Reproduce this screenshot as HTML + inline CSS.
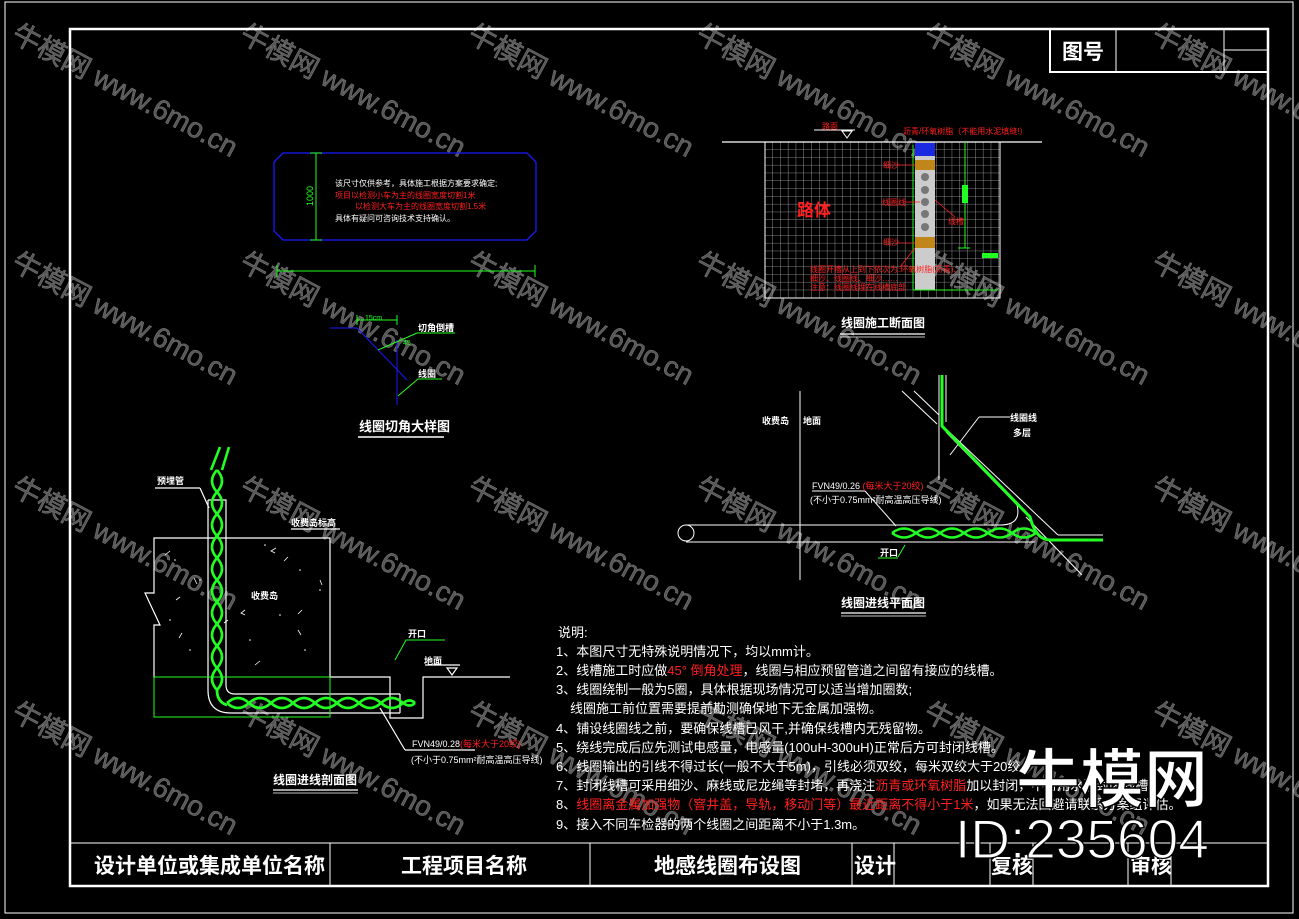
<!DOCTYPE html>
<html><head><meta charset="utf-8"><style>
html,body{margin:0;padding:0;background:#000;}
svg{display:block;}
text{font-family:"Liberation Sans","Noto Sans CJK SC",sans-serif;}
.w{fill:#fff;}
.r{fill:#ff2020;}
.wm{fill:#555;stroke:#777;stroke-width:0.6;font-size:28px;}
</style></head><body>
<svg width="1299" height="919" viewBox="0 0 1299 919" xmlns="http://www.w3.org/2000/svg">
<rect width="1299" height="919" fill="#000"/>
<!-- watermarks -->
<g class="wm">
<g transform="translate(10,40) rotate(28)"><text>牛模网 www.6mo.cn</text></g>
<g transform="translate(238,40) rotate(28)"><text>牛模网 www.6mo.cn</text></g>
<g transform="translate(466,40) rotate(28)"><text>牛模网 www.6mo.cn</text></g>
<g transform="translate(694,40) rotate(28)"><text>牛模网 www.6mo.cn</text></g>
<g transform="translate(922,40) rotate(28)"><text>牛模网 www.6mo.cn</text></g>
<g transform="translate(1150,40) rotate(28)"><text>牛模网 www.6mo.cn</text></g>
<g transform="translate(10,268) rotate(28)"><text>牛模网 www.6mo.cn</text></g>
<g transform="translate(238,268) rotate(28)"><text>牛模网 www.6mo.cn</text></g>
<g transform="translate(466,268) rotate(28)"><text>牛模网 www.6mo.cn</text></g>
<g transform="translate(694,268) rotate(28)"><text>牛模网 www.6mo.cn</text></g>
<g transform="translate(922,268) rotate(28)"><text>牛模网 www.6mo.cn</text></g>
<g transform="translate(1150,268) rotate(28)"><text>牛模网 www.6mo.cn</text></g>
<g transform="translate(10,493) rotate(28)"><text>牛模网 www.6mo.cn</text></g>
<g transform="translate(238,493) rotate(28)"><text>牛模网 www.6mo.cn</text></g>
<g transform="translate(466,493) rotate(28)"><text>牛模网 www.6mo.cn</text></g>
<g transform="translate(694,493) rotate(28)"><text>牛模网 www.6mo.cn</text></g>
<g transform="translate(922,493) rotate(28)"><text>牛模网 www.6mo.cn</text></g>
<g transform="translate(1150,493) rotate(28)"><text>牛模网 www.6mo.cn</text></g>
<g transform="translate(10,718) rotate(28)"><text>牛模网 www.6mo.cn</text></g>
<g transform="translate(238,718) rotate(28)"><text>牛模网 www.6mo.cn</text></g>
<g transform="translate(466,718) rotate(28)"><text>牛模网 www.6mo.cn</text></g>
<g transform="translate(694,718) rotate(28)"><text>牛模网 www.6mo.cn</text></g>
<g transform="translate(922,718) rotate(28)"><text>牛模网 www.6mo.cn</text></g>
<g transform="translate(1150,718) rotate(28)"><text>牛模网 www.6mo.cn</text></g>
</g>

<!-- frames -->
<g fill="none" stroke="#fff">
<path d="M5 2 H1293 V913 H5 Z" stroke-width="1"/>
<rect x="70" y="29" width="1198" height="857" stroke-width="2.5"/>
<rect x="1050" y="29" width="218" height="43" stroke-width="2"/>
<line x1="1116" y1="29" x2="1116" y2="72"/>
<line x1="1224" y1="29" x2="1224" y2="72"/>
<line x1="1224" y1="50" x2="1268" y2="50"/>
<line x1="70" y1="843" x2="1268" y2="843"/>
<line x1="330" y1="843" x2="330" y2="886"/>
<line x1="590" y1="843" x2="590" y2="886"/>
<line x1="852" y1="843" x2="852" y2="886"/>
<line x1="894" y1="843" x2="894" y2="886"/>
<line x1="990" y1="843" x2="990" y2="886"/>
<line x1="1033" y1="843" x2="1033" y2="886"/>
<line x1="1128" y1="843" x2="1128" y2="886"/>
<line x1="1171" y1="843" x2="1171" y2="886"/>
</g>
<text class="w" x="1062" y="59" font-size="21" font-weight="bold">图号</text>
<g class="w" font-size="21" font-weight="bold">
<text x="94" y="873">设计单位或集成单位名称</text>
<text x="401" y="873">工程项目名称</text>
<text x="654" y="873">地感线圈布设图</text>
<text x="854" y="873">设计</text>
<text x="991" y="873">复核</text>
<text x="1130" y="873">审核</text>
</g>

<!-- top-left: 尺寸 -->
<path d="M283 153 H527 L536 162 V231 L527 240 H283 L274 231 V162 Z" fill="none" stroke="#1a1aff" stroke-width="1.3"/>
<g stroke="#2f2" stroke-width="1" fill="none">
<line x1="316" y1="153" x2="316" y2="240"/><line x1="310" y1="153" x2="322" y2="153"/><line x1="310" y1="240" x2="322" y2="240"/>
<line x1="277" y1="271" x2="535" y2="271"/><line x1="277" y1="265" x2="277" y2="277"/><line x1="535" y1="265" x2="535" y2="277"/>
</g>
<text x="0" y="0" font-size="9" fill="#2f2" transform="translate(313,206) rotate(-90)">1000</text>
<g font-size="8">
<text class="w" x="335" y="186">该尺寸仅供参考，具体施工根据方案要求确定;</text>
<text class="r" x="335" y="198">项目以检测小车为主的线圈宽度切割1米</text>
<text class="r" x="355" y="209">以检测大车为主的线圈宽度切割1.5米</text>
<text class="w" x="335" y="221">具体有疑问可咨询技术支持确认。</text>
</g>
<!-- 切角 detail -->
<g fill="none" stroke-width="1">
<polyline points="330,328 357,328 407,380" stroke="#1a1aff"/>
<line x1="397" y1="340" x2="397" y2="405" stroke="#1a1aff"/>
<line x1="357" y1="320" x2="397" y2="320" stroke="#2f2"/>
<line x1="357" y1="315" x2="357" y2="325" stroke="#2f2"/>
<line x1="397" y1="315" x2="397" y2="325" stroke="#2f2"/>
<line x1="378" y1="350" x2="417" y2="333" stroke="#2f2"/>
<line x1="417" y1="333" x2="455" y2="333" stroke="#2f2"/>
<line x1="398" y1="396" x2="418" y2="379" stroke="#2f2"/>
<line x1="418" y1="379" x2="442" y2="379" stroke="#2f2"/>
</g>
<text x="365" y="320" font-size="7" fill="#2f2">15cm</text>
<text x="403" y="345" font-size="7" fill="#2f2">45</text>
<text class="w" x="418" y="331" font-size="9" font-weight="bold">切角倒槽</text>
<text class="w" x="418" y="377" font-size="9" font-weight="bold">线圈</text>
<text class="w" x="359" y="431" font-size="13" font-weight="bold">线圈切角大样图</text>
<line x1="358" y1="437" x2="444" y2="437" stroke="#fff" stroke-width="1.5"/>

<!-- top-right: 断面图 -->
<defs>
<pattern id="grid" x="765" y="142" width="7.8" height="7.8" patternUnits="userSpaceOnUse">
<path d="M7.8 0 V7.8 H0" fill="none" stroke="#aaa" stroke-width="0.8"/>
</pattern>
</defs>
<rect x="765" y="142" width="235" height="156" fill="url(#grid)" stroke="#fff" stroke-width="1"/>
<line x1="722" y1="142" x2="1042" y2="142" stroke="#fff" stroke-width="1.2"/>
<polyline points="814,130 855,130" stroke="#fff" fill="none"/>
<path d="M842 131 L852 131 L847 138 Z" fill="none" stroke="#fff"/>
<text class="r" x="822" y="129" font-size="8">路面</text>
<text class="r" x="903" y="134" font-size="8">沥青/环氧树脂（不能用水泥填缝!）</text>
<rect x="915" y="142" width="20" height="148" fill="#ccc"/>
<rect x="915" y="143" width="20" height="13" fill="#1a2ae0"/>
<rect x="915" y="160" width="20" height="10" fill="#c0861a"/>
<rect x="915" y="237" width="20" height="11" fill="#c0861a"/>
<g fill="#777">
<circle cx="925" cy="177" r="4"/><circle cx="925" cy="190" r="4"/><circle cx="925" cy="202" r="4"/><circle cx="925" cy="214" r="4"/><circle cx="925" cy="227" r="4"/>
</g>
<g stroke="#2f2" fill="none" stroke-width="1">
<line x1="913" y1="145" x2="913" y2="290"/><line x1="913" y1="290" x2="998" y2="290"/>
<line x1="965" y1="142" x2="965" y2="248"/><line x1="958" y1="248" x2="970" y2="248"/>
</g>
<rect x="962" y="185" width="6" height="18" fill="#2f2"/>
<rect x="982" y="253" width="16" height="5" fill="#2f2"/>
<g class="r" font-size="8">
<text x="883" y="168">细沙</text>
<text x="882" y="205">线圈线</text>
<text x="948" y="224">线槽</text>
<text x="883" y="245">细沙</text>
<text x="810" y="272">线圈开槽从上到下依次为:环氧树脂(沥青)、</text>
<text x="810" y="281">细沙、线圈线、细沙……</text>
<text x="810" y="290">注意：线圈线埋在线槽底部</text>
</g>
<text x="797" y="216" font-size="17" font-weight="bold" fill="#ff2020">路体</text>
<g stroke="#ff2020" stroke-width="0.8" fill="none">
<line x1="897" y1="165" x2="915" y2="165"/><line x1="905" y1="202" x2="920" y2="202"/>
<line x1="935" y1="200" x2="955" y2="217"/><line x1="898" y1="243" x2="915" y2="243"/>
<line x1="900" y1="267" x2="915" y2="248"/>
</g>
<text class="w" x="841" y="327" font-size="12" font-weight="bold">线圈施工断面图</text>
<line x1="840" y1="334" x2="925" y2="334" stroke="#fff" stroke-width="1.3"/>
<line x1="840" y1="337" x2="925" y2="337" stroke="#fff" stroke-width="0.8"/>

<!-- bottom-right: 平面图 -->
<g stroke="#fff" fill="none" stroke-width="1">
<line x1="800" y1="391" x2="800" y2="580"/>
<line x1="686" y1="525" x2="895" y2="525"/>
<line x1="686" y1="542" x2="1035" y2="542"/>
<circle cx="686" cy="533" r="8"/>
<line x1="939" y1="375" x2="939" y2="480"/>
<line x1="946" y1="375" x2="946" y2="422"/>
<line x1="946" y1="432" x2="1017" y2="505"/>
<path d="M1017 505 Q1022 525 1000 525 L895 525"/>
<line x1="902" y1="391" x2="937" y2="424"/>
<line x1="914" y1="391" x2="939" y2="415"/>
<line x1="946" y1="429" x2="1058" y2="535"/>
<line x1="1058" y1="535" x2="1103" y2="535"/>
<line x1="1026" y1="517" x2="1082" y2="575"/>
<line x1="979" y1="417" x2="1010" y2="417"/>
<line x1="979" y1="417" x2="950" y2="455"/>
<line x1="812" y1="491" x2="865" y2="491"/>
<line x1="865" y1="491" x2="896" y2="526"/>
</g>
<path d="M942 375 V426 L1030 517 Q1036 540 1050 540 H1103" fill="none" stroke="#2f2" stroke-width="3"/>
<g fill="none" stroke="#2f2" stroke-width="2.5">
<path d="M892 533 q12 -9 24 0 t24 0 t24 0 t24 0 t24 0 t24 0"/>
<path d="M892 533 q12 9 24 0 t24 0 t24 0 t24 0 t24 0 t24 0"/>
</g>
<line x1="905" y1="545" x2="898" y2="557" stroke="#2f2"/>
<line x1="878" y1="558" x2="898" y2="558" stroke="#2f2"/>
<text class="w" x="762" y="424" font-size="9" font-weight="bold">收费岛</text>
<text class="w" x="803" y="424" font-size="9" font-weight="bold">地面</text>
<text class="w" x="1010" y="421" font-size="9" font-weight="bold">线圈线</text>
<text class="w" x="1013" y="436" font-size="9" font-weight="bold">多层</text>
<text x="812" y="489" font-size="9"><tspan fill="#fff">FVN49/0.26 </tspan><tspan fill="#ff2020">(每米大于20绞)</tspan></text>
<text class="w" x="810" y="503" font-size="9">(不小于0.75mm²耐高温高压导线)</text>
<text class="w" x="880" y="556" font-size="9" font-weight="bold">开口</text>
<text class="w" x="841" y="607" font-size="12" font-weight="bold">线圈进线平面图</text>
<line x1="841" y1="613" x2="926" y2="613" stroke="#fff" stroke-width="1.3"/>
<line x1="841" y1="616" x2="926" y2="616" stroke="#fff" stroke-width="0.8"/>

<!-- bottom-left: 剖面图 -->
<g stroke="#fff" fill="none" stroke-width="1.2">
<polyline points="330,678 330,538 154,538 154,593 145,593 160,625 154,625 154,678"/>
<polyline points="330,677 390,677 390,718 423,718 423,677 510,677"/>
<path d="M208 500 H226 V685 Q226 694 235 694 H400"/>
<path d="M208 500 V690 Q208 713 231 713 H400"/>
<line x1="400" y1="694" x2="400" y2="713"/>
<line x1="155" y1="488" x2="200" y2="488"/>
<line x1="200" y1="488" x2="209" y2="508"/>
<line x1="291" y1="529" x2="340" y2="529"/>
<line x1="425" y1="665" x2="460" y2="665"/>
<path d="M447 668 L457 668 L452 675 Z"/>
<line x1="380" y1="708" x2="405" y2="750"/>
<line x1="405" y1="750" x2="475" y2="750"/>
</g>
<rect x="154" y="677" width="176" height="40" fill="none" stroke="#2f2" stroke-width="1"/>
<polyline points="395,660 406,640 445,640" fill="none" stroke="#2f2"/>
<g fill="#fff">
<circle cx="175" cy="560" r="0.8"/><circle cx="200" cy="580" r="0.8"/><circle cx="265" cy="545" r="0.8"/><circle cx="300" cy="570" r="0.8"/><circle cx="320" cy="590" r="0.8"/><circle cx="280" cy="615" r="0.8"/><circle cx="250" cy="640" r="0.8"/><circle cx="190" cy="650" r="0.8"/><circle cx="170" cy="620" r="0.8"/><circle cx="305" cy="650" r="0.8"/>
</g>
<g stroke="#fff" stroke-width="0.8" fill="none">
<path d="M165 555 l5 -4 M194 578 l3 6 M276 548 l-5 3 l4 2 M288 557 l-4 4 M320 580 l2 5 M245 610 l-4 3 l4 2 M298 630 l3 5 M228 620 l-4 3 M182 633 l-3 5 M255 665 l5 -4 M302 610 l-4 4 M176 600 l4 -3"/>
</g>
<g fill="none" stroke="#2f2" stroke-width="2.6">
<path d="M217 470 q10 11 0 22 t0 22 t0 22 t0 22 t0 22 t0 22 t0 22 t0 22 t0 22 t0 22 q0 12 10 15"/>
<path d="M217 470 q-10 11 0 22 t0 22 t0 22 t0 22 t0 22 t0 22 t0 22 t0 22 t0 22 t0 22 q0 12 10 15"/>
<path d="M220 447 L211 470 M229 447 L222 470"/>
<path d="M227 703 q11 -10 22 0 t22 0 t22 0 t22 0 t22 0 t22 0 t22 0 t22 0 q7 -5 12 0"/>
<path d="M227 703 q11 10 22 0 t22 0 t22 0 t22 0 t22 0 t22 0 t22 0 t22 0 q7 5 12 0"/>
</g>
<g class="w" font-size="9" font-weight="bold">
<text x="157" y="484">预埋管</text>
<text x="291" y="526">收费岛标高</text>
<text x="251" y="599">收费岛</text>
<text x="408" y="637">开口</text>
<text x="424" y="664">地面</text>
</g>
<text x="412" y="747" font-size="9"><tspan fill="#fff">FVN49/0.28</tspan><tspan fill="#ff2020">(每米大于20绞)</tspan></text>
<text class="w" x="411" y="763" font-size="9">(不小于0.75mm²耐高温高压导线)</text>
<text class="w" x="273" y="784" font-size="12" font-weight="bold">线圈进线剖面图</text>
<line x1="273" y1="790" x2="358" y2="790" stroke="#fff" stroke-width="1.3"/>
<line x1="273" y1="793" x2="358" y2="793" stroke="#fff" stroke-width="0.8"/>

<!-- notes -->
<g font-size="13" fill="#fff">
<text x="558" y="637">说明:</text>
<text x="556" y="656">1、本图尺寸无特殊说明情况下，均以mm计。</text>
<text x="556" y="675">2、线槽施工时应做<tspan fill="#ff2020">45° 倒角处理</tspan>，线圈与相应预留管道之间留有接应的线槽。</text>
<text x="556" y="694">3、线圈绕制一般为5圈，具体根据现场情况可以适当增加圈数;</text>
<text x="570" y="713">线圈施工前位置需要提前勘测确保地下无金属加强物。</text>
<text x="556" y="733">4、铺设线圈线之前，要确保线槽已风干,并确保线槽内无残留物。</text>
<text x="556" y="752">5、绕线完成后应先测试电感量，电感量(100uH-300uH)正常后方可封闭线槽。</text>
<text x="556" y="771">6、线圈输出的引线不得过长(一般不大于5m)，引线必须双绞，每米双绞大于20绞。</text>
<text x="556" y="790">7、封闭线槽可采用细沙、麻线或尼龙绳等封堵，再浇注<tspan fill="#ff2020">沥青或环氧树脂</tspan>加以封闭，不可用水泥封闭线槽。</text>
<text x="556" y="809"><tspan>8、</tspan><tspan fill="#ff2020">线圈离金属加强物（窨井盖，导轨，移动门等）最近距离不得小于1米</tspan>，如果无法回避请联系方案组评估。</text>
<text x="556" y="829">9、接入不同车检器的两个线圈之间距离不小于1.3m。</text>
</g>

<!-- big watermark -->
<text x="1016" y="802" font-size="64" font-weight="bold" fill="#fff" stroke="#000" stroke-width="1.5">牛模网</text>
<text x="955" y="858" font-size="55" fill="#fff" stroke="#000" stroke-width="1.2" font-family="Liberation Sans">ID:235604</text>
</svg>
</body></html>
